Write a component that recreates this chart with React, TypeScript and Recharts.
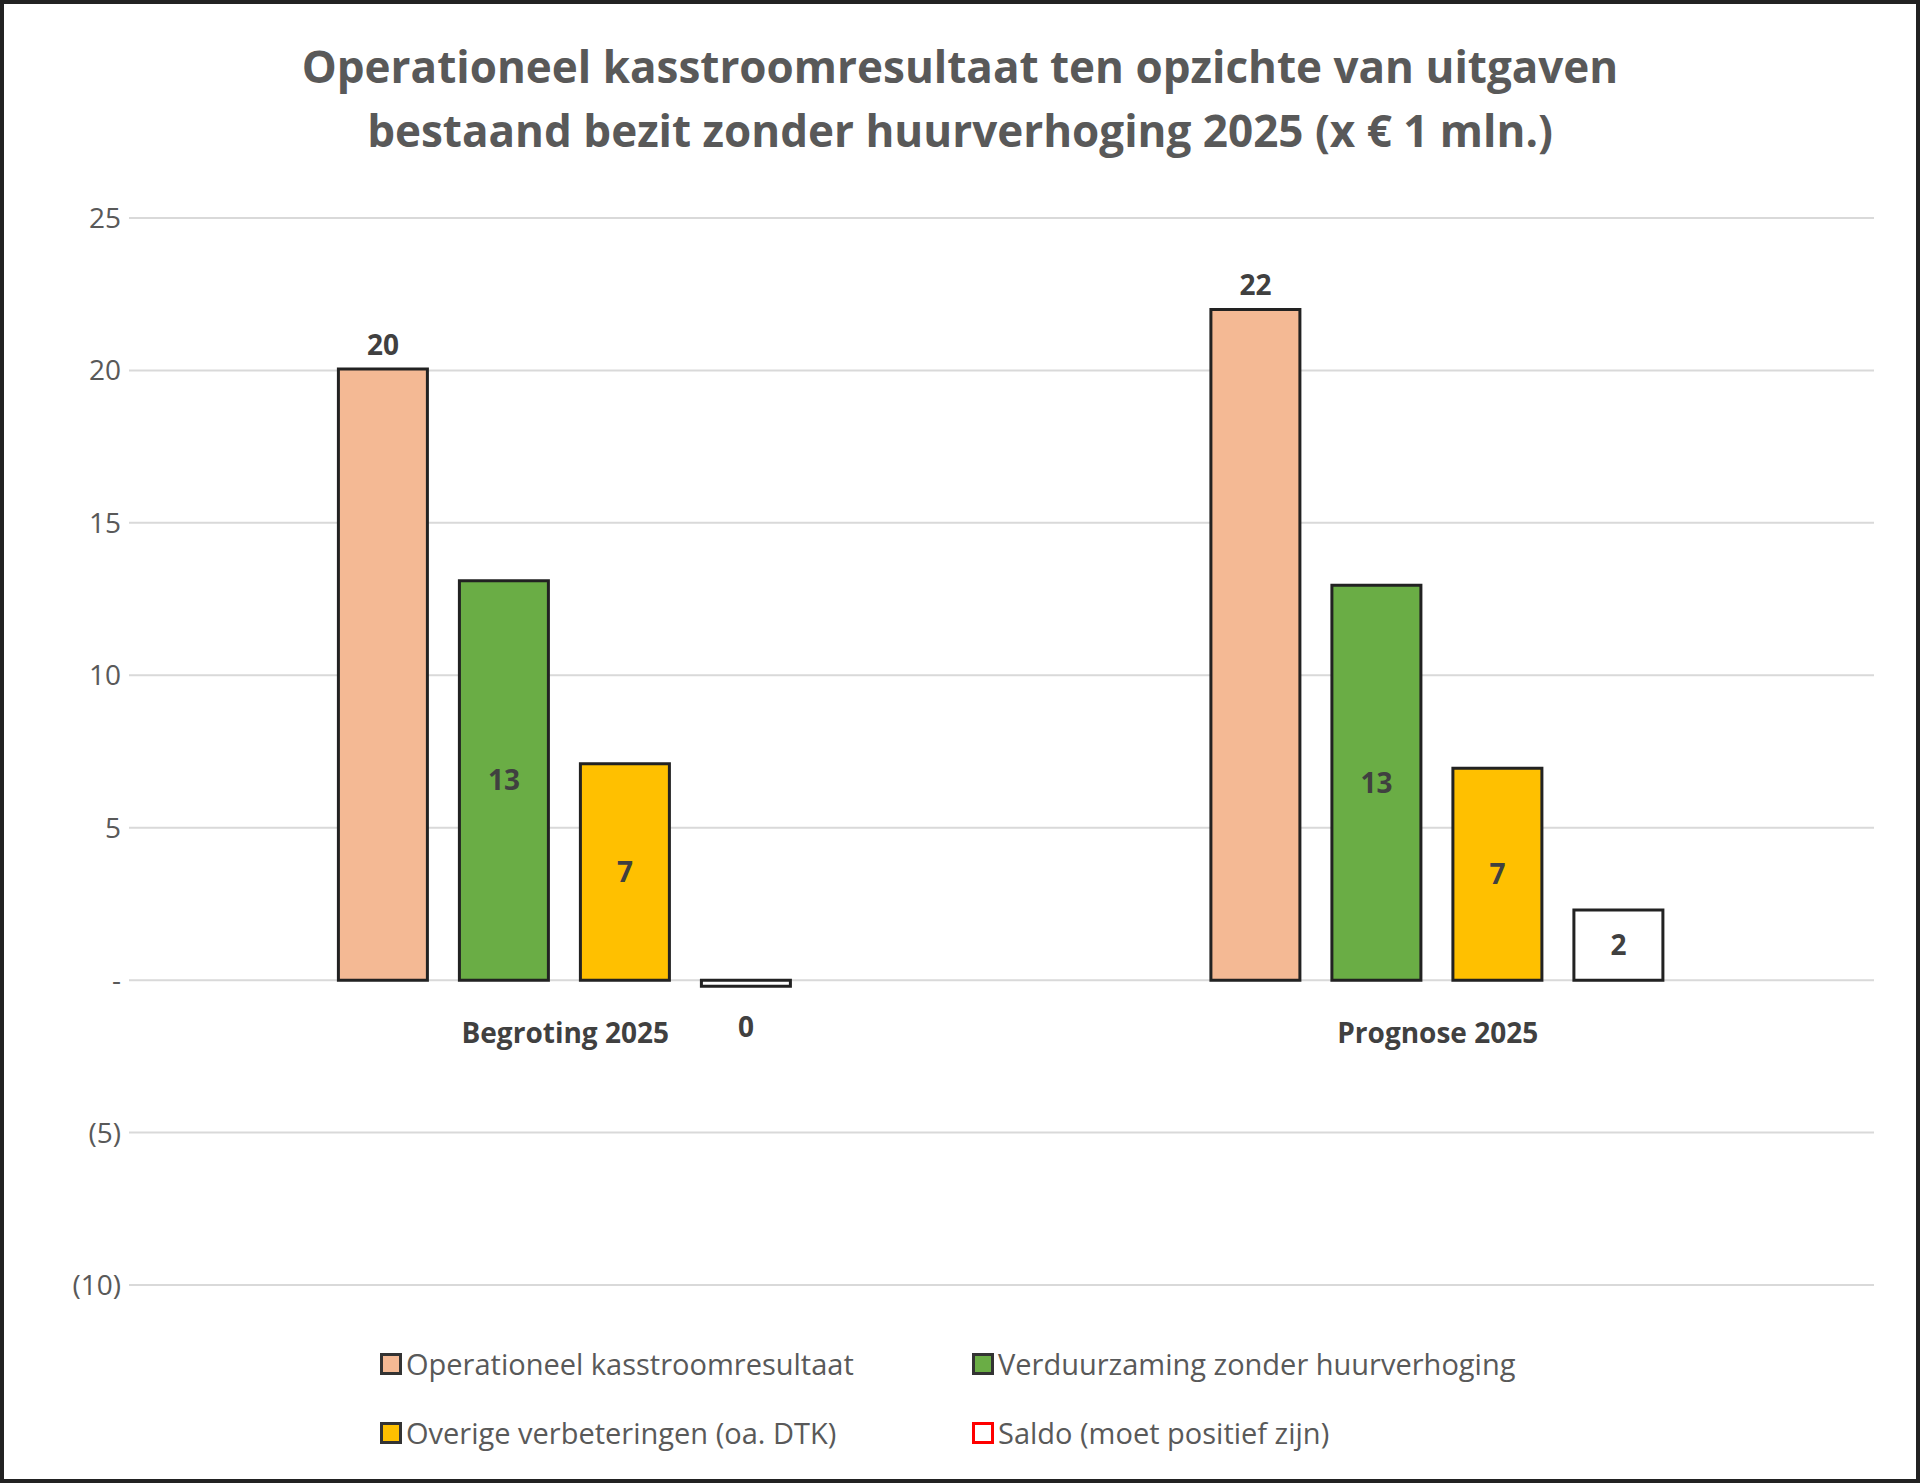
import { BarChart, Bar, XAxis, YAxis, CartesianGrid, LabelList } from "recharts"

const categories = ["Begroting 2025", "Prognose 2025"]
const operationeel = [20.05, 22.0]
const verduurzaming = [13.1, 12.95]
const overige = [7.1, 6.95]
const saldo = [-0.2, 2.3]
const yTicks = [-10, -5, 0, 5, 10, 15, 20, 25]

const data = categories.map((name, i) => ({
  name,
  operationeel: operationeel[i],
  verduurzaming: verduurzaming[i],
  overige: overige[i],
  saldo: saldo[i],
}))

const FONT = "'Open Sans', 'Liberation Sans', sans-serif"
const GRAY = "#595959"

const fmtY = (v: number) => (v === 0 ? "-" : v < 0 ? `(${-v})` : String(v))

const legendItems = [
  { label: "Operationeel kasstroomresultaat", fill: "#f4b994", stroke: "#333" },
  { label: "Verduurzaming zonder huurverhoging", fill: "#6aad45", stroke: "#333" },
  { label: "Overige verbeteringen (oa. DTK)", fill: "#ffc000", stroke: "#333" },
  { label: "Saldo (moet positief zijn)", fill: "#fff", stroke: "#ff0000" },
]

const CategoryTick = (props: any) => {
  const { x, y, payload } = props
  return (
    <text x={x} y={y - 250} textAnchor="middle" fontFamily={FONT} fontSize={28} fontWeight={700} fill="#404040">
      {payload.value}
    </text>
  )
}

const SaldoLabel = (props: any) => {
  const { x, y, width, height, value } = props
  const v = Math.round(value)
  const cx = x + width / 2
  const cy = value < 0.5 ? y + Math.abs(height) + 45 : y + height / 2 + 10
  return (
    <text x={cx} y={cy} textAnchor="middle" fontFamily={FONT} fontSize={28} fontWeight={700} fill="#404040">
      {v}
    </text>
  )
}

const labelStyle = { fontFamily: FONT, fontSize: 28, fontWeight: 700, fill: "#404040" }

export default function App() {
  return (
    <div
      style={{
        position: "absolute",
        left: 0,
        top: 0,
        width: 1920,
        height: 1483,
        boxSizing: "border-box",
        border: "4px solid #222",
        background: "#fff",
        fontFamily: FONT,
      }}
    >
      <div
        style={{
          position: "absolute",
          top: 30,
          width: "100%",
          textAlign: "center",
          fontSize: 44,
          fontWeight: 700,
          color: GRAY,
          lineHeight: "64px",
        }}
      >
        Operationeel kasstroomresultaat ten opzichte van uitgaven
        <br />
        bestaand bezit zonder huurverhoging 2025 (x € 1 mln.)
      </div>
      <div style={{ position: "absolute", left: -4, top: -4 }}>
        <BarChart
          width={1920}
          height={1483}
          data={data}
          margin={{ top: 218, right: 46, bottom: 178, left: 29 }}
          barCategoryGap="24%"
          barGap={32}
        >
          <CartesianGrid vertical={false} stroke="#d9d9d9" strokeWidth={2} />
          <XAxis dataKey="name" axisLine={false} tickLine={false} tick={<CategoryTick />} height={20} />
          <YAxis
            domain={[-10, 25]}
            ticks={yTicks}
            tickFormatter={fmtY}
            axisLine={false}
            tickLine={false}
            width={100}
            tick={{ fontFamily: FONT, fontSize: 28, fill: GRAY }}
          />
          <Bar dataKey="operationeel" fill="#f4b994" stroke="#222" strokeWidth={3} isAnimationActive={false}>
            <LabelList dataKey="operationeel" position="top" offset={14} formatter={(v: any) => Math.round(v)} style={labelStyle} />
          </Bar>
          <Bar dataKey="verduurzaming" fill="#6aad45" stroke="#222" strokeWidth={3} isAnimationActive={false}>
            <LabelList dataKey="verduurzaming" position="center" formatter={(v: any) => Math.round(v)} style={labelStyle} />
          </Bar>
          <Bar dataKey="overige" fill="#ffc000" stroke="#222" strokeWidth={3} isAnimationActive={false}>
            <LabelList dataKey="overige" position="center" formatter={(v: any) => Math.round(v)} style={labelStyle} />
          </Bar>
          <Bar dataKey="saldo" fill="#ffffff" stroke="#222" strokeWidth={3} isAnimationActive={false}>
            <LabelList dataKey="saldo" content={<SaldoLabel />} />
          </Bar>
        </BarChart>
      </div>
      <div
        style={{
          position: "absolute",
          left: 376,
          top: 1340,
          display: "grid",
          gridTemplateColumns: "592px 600px",
          rowGap: 30,
          fontSize: 29,
          color: GRAY,
        }}
      >
        {legendItems.map((it) => (
          <div key={it.label} style={{ display: "flex", alignItems: "center" }}>
            <span
              style={{
                display: "inline-block",
                width: 16,
                height: 16,
                background: it.fill,
                border: `3px solid ${it.stroke}`,
                marginRight: 4,
              }}
            />
            {it.label}
          </div>
        ))}
      </div>
    </div>
  )
}
